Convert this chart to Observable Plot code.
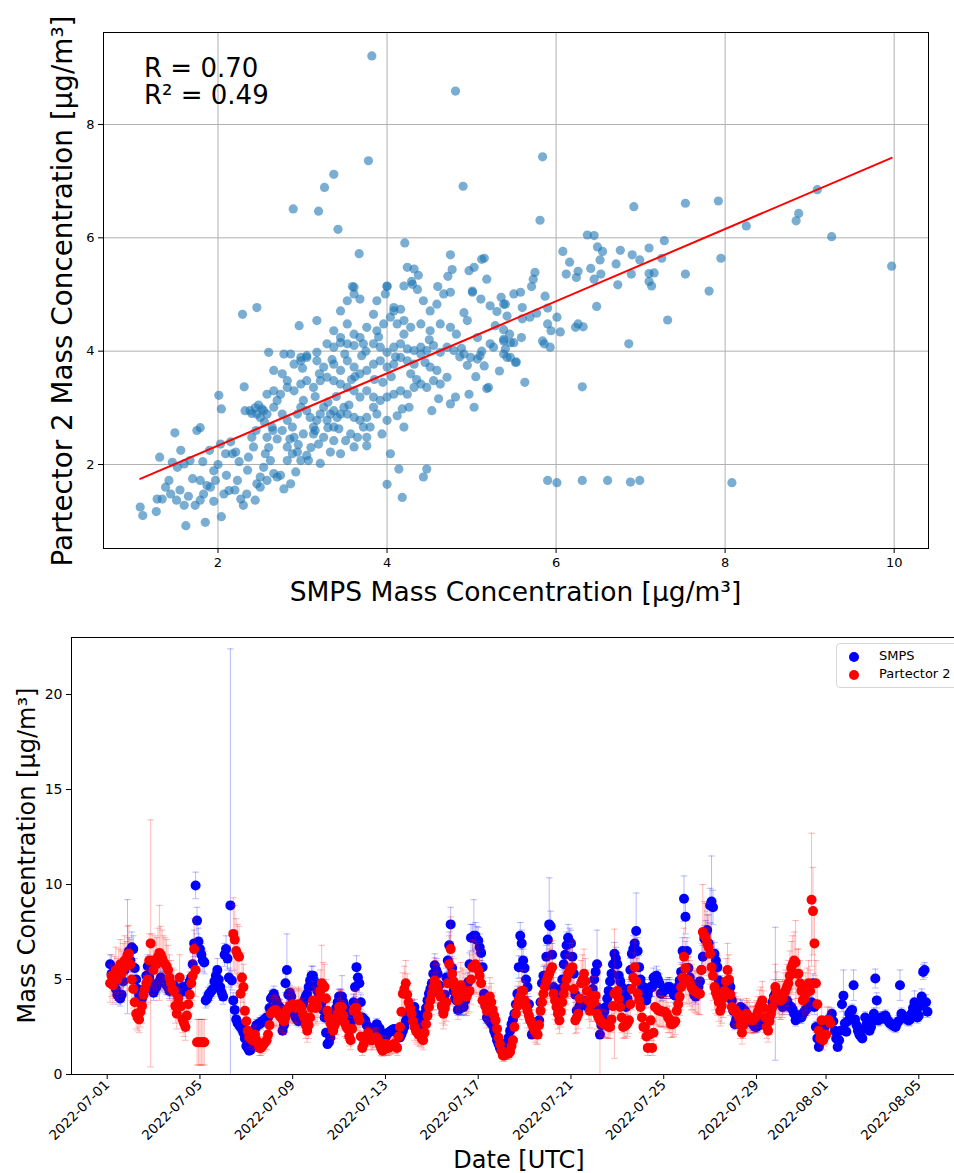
<!DOCTYPE html>
<html><head><meta charset="utf-8">
<script src="https://cdn.jsdelivr.net/npm/d3@7"></script>
<script src="https://cdn.jsdelivr.net/npm/@observablehq/plot@0.6"></script>
<style>
html,body{margin:0;padding:0;background:#fff;overflow:hidden}
#wrap{position:relative;width:954px;height:1173px;overflow:hidden;font-family:"DejaVu Sans",sans-serif;background:#fff}
#wrap svg{display:block}
.legend{position:absolute;left:836px;top:643px;width:140px;height:43px;border:1px solid #d6d6d6;border-radius:4px;background:rgba(255,255,255,0.85);font-family:"DejaVu Sans",sans-serif;font-size:13px;color:#000}
.legend .dot{position:absolute;left:12px;width:10px;height:10px;border-radius:50%}
.legend .lab{position:absolute;left:42px;line-height:16px}
</style></head>
<body><div id="wrap"></div>
<script>
// ---------------- Panel 1: scatter (SMPS vs Partector 2) ----------------
const scatterPairs = [
[1.08,1.25],[1.11,1.10],[1.27,1.17],[1.31,2.13],[1.49,2.56],[1.56,2.25],[1.62,0.92],[1.42,1.72],[1.38,1.60],[1.46,2.04],
[1.52,1.95],[1.60,2.01],[1.67,2.07],[1.75,2.60],[1.79,2.65],[1.28,1.39],[1.34,1.39],[1.44,1.48],[1.51,1.37],[1.60,1.28],
[1.65,1.44],[1.73,1.28],[1.79,1.72],[1.83,1.48],[1.87,1.63],[1.85,0.98],[1.79,1.37],[1.91,1.60],[1.97,1.72],[1.95,1.89],
[2.01,3.22],[2.04,2.98],[2.03,2.36],[2.04,1.08],[2.07,1.48],[2.10,1.81],[2.13,1.54],[2.09,2.19],[2.17,2.19],[2.21,2.22],
[2.23,1.72],[2.27,1.39],[2.30,1.28],[2.31,3.37],[2.29,4.65],[2.46,4.77],[2.34,1.48],[2.32,2.95],[2.36,2.13],[2.42,2.31],
[2.40,2.48],[2.44,1.37],[2.46,1.66],[2.50,1.78],[2.50,1.60],[2.54,1.95],[2.56,2.19],[2.58,2.48],[2.62,2.07],[2.58,1.72],
[2.66,1.84],[2.70,1.78],[2.74,1.81],[2.78,1.57],[2.86,1.66],[2.92,1.87],[2.82,2.07],[2.88,2.19],[2.94,2.22],[2.98,2.07],
[3.05,2.16],[3.07,2.07],[3.21,2.02],[3.19,2.36],[3.25,2.48],[3.33,2.22],[3.37,2.42],[3.45,2.19],[3.51,2.42],[3.57,2.54],
[3.61,2.31],[3.65,2.48],[3.76,2.48],[3.76,2.33],[3.80,2.66],[3.88,2.89],[3.94,2.54],[4.00,2.78],[4.04,2.19],[4.14,1.92],
[4.00,1.65],[4.18,1.42],[4.20,2.66],[4.12,2.86],[4.18,2.98],[4.26,3.01],[4.43,1.78],[4.47,1.92],
[1.55,1.55],[1.70,1.75],[1.82,2.05],[1.90,2.25],[2.00,2.00],[2.15,2.40],[2.25,2.05],[2.35,1.90],[2.20,1.55],[1.95,1.35],
[2.60,2.30],[2.70,2.45],[2.55,2.75],[2.45,2.60],[2.65,2.60],[2.85,2.45],[2.95,2.35],[3.10,2.30],[3.15,2.60],[3.30,2.65],
[2.40,2.90],[2.48,3.05],[2.52,2.98],[2.44,3.00],
[2.38,2.95],[2.46,2.89],[2.54,2.95],[2.50,2.83],[2.58,2.89],[2.66,3.01],[2.70,3.13],[2.76,2.89],[2.82,2.78],[2.88,2.66],
[2.94,2.89],[2.98,3.01],[3.01,3.13],[3.05,2.95],[3.09,2.83],[3.13,2.66],[3.17,2.78],[3.21,2.89],[3.25,3.01],[3.29,2.78],
[3.33,2.89],[3.37,2.95],[3.41,2.83],[3.45,2.89],[3.49,3.01],[3.53,2.89],[3.61,2.83],[3.68,2.78],[3.72,2.66],[3.76,2.83],
[3.84,3.01],[3.37,2.66],[3.43,2.63],[3.13,2.54],[3.01,2.54],[2.90,2.48],[2.82,2.31],[2.76,2.60],[2.64,2.66],[2.58,3.24],
[2.66,3.30],[2.74,3.24],[2.82,3.36],[2.90,3.30],[2.98,3.42],[3.05,3.48],[3.13,3.36],[3.21,3.48],[3.29,3.54],[3.37,3.48],
[3.45,3.42],[3.53,3.36],[3.61,3.30],[3.68,3.19],[3.76,3.30],[3.84,3.19],[3.92,3.13],[4.00,3.19],[4.08,3.24],[4.16,3.30],
[4.24,3.24],[4.32,3.36],[4.40,3.42],[4.47,3.36],[4.55,3.48],[4.63,3.42],[2.66,3.66],[2.76,3.60],[2.82,3.48],[2.90,3.77],
[2.98,3.83],[3.05,3.89],[3.17,3.83],[3.25,3.72],[3.37,3.77],[3.45,3.66],[3.53,3.83],[3.61,3.72],[3.68,3.60],[3.76,3.66],
[3.84,3.77],[3.92,3.83],[4.00,3.72],[4.08,3.77],[4.16,3.89],[4.24,3.83],[4.32,3.77],[4.40,3.95],[4.51,3.72],[4.59,3.66],
[4.71,3.54],[4.75,3.07],[4.81,3.19],[4.97,3.24],[5.03,3.01],[5.20,3.36],[4.53,2.95],[4.61,3.16],[2.60,3.98],[2.78,3.95],
[2.86,3.95],[2.98,3.89],[3.05,3.92],[3.17,3.98],[3.29,4.13],[3.37,4.07],[3.45,4.15],[3.53,4.13],[3.61,4.10],[3.72,4.13],
[3.84,4.13],[3.92,4.07],[4.00,3.98],[4.08,4.07],[4.16,4.13],[4.24,4.04],[4.32,4.01],[4.40,4.07],[4.47,4.01],[4.55,4.10],
[4.63,3.98],[4.71,4.07],[4.79,4.01],[4.91,3.95],[4.99,3.89],[5.07,3.86],[5.15,3.74],[5.26,4.07],[5.38,3.95],[5.46,3.89],
[5.52,3.80],
[3.30,3.10],[3.40,3.20],[3.55,3.05],[3.62,3.55],[3.50,3.95],[3.95,3.45],[4.05,3.55],[4.10,3.90],[4.28,3.60],[4.35,3.50],
[3.15,3.20],[3.00,3.70],[3.20,3.60],[3.35,3.85],[3.70,3.92],[3.85,3.50],[4.45,3.80],[4.50,4.20],[4.20,4.30],[3.90,4.25],
[3.58,3.50],[3.75,4.00],
[2.96,4.45],[3.17,4.54],[3.37,4.36],[3.45,4.24],[3.53,4.48],[3.61,4.30],[3.68,4.24],[3.76,4.42],[3.88,4.36],[3.96,4.48],
[4.04,4.60],[4.12,4.48],[4.20,4.54],[4.28,4.42],[4.40,4.48],[4.51,4.36],[4.63,4.48],[4.75,4.42],[4.95,4.54],[5.07,4.24],
[5.22,4.13],[5.38,4.21],[5.46,4.15],[3.45,4.71],[3.53,4.89],[3.61,5.01],[3.68,4.92],[3.88,4.89],[3.98,5.01],[4.08,4.71],
[4.16,4.74],[4.20,5.15],[4.30,5.18],[4.36,5.09],[4.43,4.89],[4.51,4.71],[4.59,4.83],[4.67,5.01],[4.75,5.04],[4.91,4.68],
[5.01,5.04],[5.11,4.92],[5.22,4.80],[5.38,4.83],[5.50,5.01],[3.61,5.13],[4.00,5.15],[3.84,4.65],[4.08,4.77],
[3.82,9.21],[4.81,8.59],[3.78,7.36],[3.37,7.12],[3.26,6.89],[4.90,6.91],[2.89,6.51],[3.19,6.47],[3.42,6.15],[4.21,5.91],
[3.67,5.72],[4.75,5.70],[5.15,5.64],[5.12,5.62],[4.24,5.48],[4.32,5.45],[4.37,5.34],[4.77,5.44],[4.72,5.32],[4.97,5.42],
[5.03,5.48],[5.18,5.27],[4.29,5.23],[3.59,5.14],[4.00,5.14],[4.60,5.14],[5.01,5.06],
[5.84,7.43],[5.81,6.31],[6.92,6.55],[7.53,6.61],[7.92,6.65],[9.09,6.85],[8.87,6.43],[8.84,6.30],[8.25,6.21],[9.26,6.02],
[9.97,5.50],[6.37,6.05],[6.45,6.04],[6.49,5.84],[6.55,5.76],[6.08,5.76],[6.16,5.57],[6.76,5.78],[6.90,5.70],[6.99,5.61],
[7.10,5.82],[7.28,5.95],[7.25,5.64],[7.95,5.64],[6.52,5.61],[6.71,5.54],[6.41,5.46],[6.26,5.41],[6.12,5.36],[6.24,5.30],
[6.45,5.27],[6.53,5.36],[6.89,5.36],[7.10,5.37],[7.16,5.38],[7.10,5.23],[7.13,5.15],[7.53,5.36],[6.73,5.17],[5.75,5.39],
[5.73,5.27],[5.71,5.14],[5.58,5.04],[7.81,5.06],
[6.48,4.79],[7.32,4.55],[6.86,4.13],[5.87,4.97],[5.40,4.83],[5.60,4.77],[5.90,4.76],[5.77,4.67],[5.60,4.57],[5.69,4.60],
[6.01,4.60],[5.90,4.48],[5.38,4.38],[5.94,4.36],[6.05,4.34],[6.23,4.42],[6.26,4.48],[6.32,4.43],[5.59,4.24],[5.84,4.18],
[5.86,4.13],[5.93,4.07],[5.38,4.18],[5.40,4.04],[5.42,3.89],[5.53,3.81],[5.63,3.45],[6.31,3.37],
[5.90,1.72],[6.01,1.68],[6.31,1.72],[6.61,1.72],[6.88,1.69],[6.99,1.72],[8.08,1.68],
[5.30,4.70],[5.35,4.95],[5.45,4.30],[5.28,4.45],[5.50,4.15],[5.33,3.65],[5.42,4.62],[4.82,4.30],[4.88,4.05],[4.95,3.75],
[5.05,3.55],[4.86,3.90],[5.12,4.00],[5.18,3.34],[5.10,3.92]
];
const fitSlope = 0.637;
const fitIntercept = 1.06;
const statLines = ["R = 0.70", "R² = 0.49"];
const scatterXTicks = [2, 4, 6, 8, 10];
const scatterYTicks = [2, 4, 6, 8];
const scatterXLabel = "SMPS Mass Concentration [µg/m³]";
const scatterYLabel = "Partector 2 Mass Concentration [µg/m³]";

// ---------------- Panel 2: time series (every 1.5 h from seriesStart, one row per day) ----------------
const seriesStart = "2022-07-01T01:30:00Z";
const stepHours = 1.5;
const smps = [
null,5.8,5.3,5.0,4.8,4.5,4.2,4.1,4.0,4.2,4.9,5.5,6.0,6.2,6.5,6.0,
6.7,6.6,5.6,5.0,4.5,4.2,4.0,4.0,4.2,4.5,5.2,5.7,5.1,4.8,4.5,4.3,
4.5,4.6,4.8,4.9,5.1,5.0,4.9,4.8,4.7,4.6,4.4,4.5,4.6,4.7,4.5,4.3,
4.2,4.3,4.5,4.6,4.4,4.5,4.6,4.7,4.9,5.1,5.8,6.9,9.95,8.1,7.0,6.6,
6.3,6.0,5.9,3.9,4.0,4.2,4.3,4.4,4.5,4.9,5.2,5.5,5.0,4.6,4.3,4.1,
6.3,6.6,6.1,5.1,8.9,4.95,3.9,3.4,2.9,2.7,2.6,2.5,2.4,2.2,1.9,1.5,
1.4,1.25,1.3,1.6,2.0,2.4,2.6,2.6,2.7,2.7,2.8,2.85,2.9,3.0,3.0,3.5,
4.0,4.1,4.25,4.0,3.8,3.6,3.55,3.2,2.3,2.6,4.8,5.5,4.2,4.3,4.1,3.6,
3.2,3.0,2.9,2.8,3.1,3.4,3.7,3.9,4.1,4.25,4.6,4.95,5.2,5.2,4.9,4.6,
4.4,4.25,4.0,3.8,3.4,3.0,2.2,1.6,1.7,1.95,2.4,2.85,3.2,3.5,3.8,4.1,
4.1,4.1,3.8,3.55,3.4,3.2,2.9,2.7,3.0,3.8,4.6,5.65,5.1,4.8,3.8,3.0,
2.9,2.85,2.6,2.5,2.4,2.4,2.3,2.3,2.5,2.65,2.5,2.4,2.2,2.0,1.95,1.95,
2.1,2.2,2.25,2.3,2.35,2.4,2.3,2.2,2.1,1.95,2.1,2.3,2.5,2.8,3.0,3.2,
3.3,3.4,3.5,3.55,3.2,2.8,2.4,2.1,2.5,2.9,3.2,3.5,3.9,4.25,4.5,4.8,
5.3,5.75,5.5,5.3,4.7,4.2,3.6,3.3,4.2,5.1,6.0,6.8,7.9,5.6,4.4,4.0,
3.9,3.4,3.45,3.5,3.55,3.55,3.9,4.2,4.85,5.8,7.2,7.2,7.3,7.3,7.1,7.05,
6.7,6.4,5.65,4.25,3.6,3.0,2.9,2.8,2.7,2.6,2.3,2.1,1.8,1.6,1.4,1.25,
1.25,1.3,1.4,1.7,1.95,2.3,2.65,2.9,3.2,3.7,4.25,5.65,7.3,6.9,6.0,5.6,
5.0,4.6,3.7,2.85,2.1,2.2,2.3,2.5,2.7,2.85,3.8,4.8,5.2,5.2,6.2,7.1,
7.9,7.8,6.3,4.6,4.3,4.1,3.9,3.9,4.5,5.0,5.8,6.3,6.8,7.2,7.0,6.9,
6.2,5.3,4.2,3.35,3.4,3.6,3.8,3.9,3.8,3.7,3.6,3.55,3.55,3.9,4.5,5.0,
5.4,5.8,3.5,2.1,2.6,3.0,3.3,3.55,4.0,4.4,4.9,5.3,5.8,6.35,6.1,5.8,
5.2,4.9,4.6,4.3,3.9,3.55,4.0,4.5,5.5,6.35,6.6,6.9,7.55,6.5,5.65,5.0,
4.6,4.6,4.2,3.9,4.2,4.5,4.6,4.6,5.1,4.9,5.2,5.0,4.8,4.25,4.3,4.4,
4.5,4.5,4.6,4.6,4.5,4.4,4.2,4.15,4.4,4.6,4.95,5.4,6.5,9.25,8.3,6.5,
5.6,5.1,4.8,4.5,4.2,4.1,4.3,4.6,4.9,5.5,6.2,7.15,7.4,7.6,6.9,8.9,
9.1,8.8,6.35,6.0,5.65,4.95,4.7,4.5,4.4,4.25,4.4,4.6,4.8,4.6,3.9,3.35,
2.65,2.9,3.2,3.4,3.55,3.5,3.4,3.35,3.2,3.0,2.85,2.8,2.7,2.6,2.5,2.5,
2.55,2.65,2.7,2.8,2.85,2.85,2.9,2.95,3.0,3.4,3.8,4.1,4.25,4.2,4.1,3.9,
3.7,3.55,3.7,3.8,3.9,3.7,3.55,3.55,3.4,3.2,2.85,3.0,3.1,3.0,3.0,3.2,
3.3,3.4,3.5,3.6,3.7,3.8,4.8,3.55,2.5,1.9,1.45,1.7,1.95,2.3,2.5,2.65,
2.8,2.9,3.0,3.2,2.8,2.3,1.9,1.45,1.8,2.3,3.7,4.15,2.7,2.25,2.8,3.2,
3.3,3.4,4.7,2.9,2.6,2.3,2.1,2.0,1.9,2.4,3.0,2.65,2.5,2.3,2.5,2.8,
3.2,5.05,3.9,2.85,2.9,3.0,3.0,3.0,3.1,2.9,2.8,2.7,2.65,2.6,2.55,2.5,
2.7,2.8,4.7,3.2,3.1,3.0,2.95,2.9,2.85,2.9,3.2,3.5,3.8,3.3,3.0,3.1,
3.6,4.1,5.4,5.5,3.8,3.3
];
const smpsErr = [
null,0.5,0.5,0.4,0.4,0.4,0.4,0.4,0.4,0.4,0.5,0.6,0.6,3.0,0.7,0.6,
0.8,0.7,0.5,0.5,0.4,0.4,0.4,0.4,0.4,0.4,0.5,0.6,0.5,0.5,0.4,0.4,
0.4,0.4,0.5,0.5,0.5,0.5,0.5,0.5,0.5,0.4,0.4,0.4,0.4,0.5,0.4,0.4,
0.4,0.4,0.4,0.4,0.4,0.4,0.4,0.5,0.5,0.5,0.6,0.7,0.7,0.7,0.7,0.6,
0.6,0.6,0.6,0.4,0.4,0.4,0.4,0.4,0.4,0.5,0.5,0.6,0.5,0.5,0.4,0.4,
0.6,0.7,0.6,0.5,13.5,0.5,0.4,0.3,0.3,0.3,0.3,0.3,0.2,0.2,0.2,0.2,
0.2,0.1,0.1,0.2,0.2,0.2,0.3,0.3,0.3,0.3,0.3,0.3,0.3,0.3,0.3,0.4,
0.4,0.4,0.4,0.4,0.4,0.4,0.4,0.3,0.2,0.3,0.5,1.9,0.4,0.4,0.4,0.4,
0.3,0.3,0.3,0.3,0.3,0.3,0.4,0.4,0.4,0.4,0.5,0.5,0.5,0.5,0.5,0.5,
0.4,0.4,0.4,0.4,0.3,0.3,0.2,0.2,0.2,0.2,0.2,0.3,0.3,0.3,0.4,0.4,
0.4,1.1,0.4,0.4,0.3,0.3,0.3,0.3,0.3,0.4,0.5,0.6,0.5,0.5,0.4,0.3,
0.3,0.3,0.3,0.2,0.2,0.2,0.2,0.2,0.2,0.3,0.2,0.2,0.2,0.2,0.2,0.2,
0.2,0.2,0.2,0.2,0.2,0.2,0.2,0.2,0.2,0.2,0.2,0.2,0.2,0.3,0.3,0.3,
0.3,0.3,0.4,0.4,0.3,0.3,0.2,0.2,0.2,0.3,0.3,0.4,0.4,0.4,0.5,0.5,
0.5,0.6,0.6,0.5,0.5,0.4,0.4,0.3,0.4,0.5,0.6,0.7,0.9,0.6,0.4,0.4,
0.4,0.3,0.3,0.4,0.4,0.4,0.4,0.4,0.5,0.6,0.7,0.7,1.9,0.7,0.7,0.7,
0.7,0.6,0.6,0.4,0.4,0.3,0.3,0.3,0.3,0.3,0.2,0.2,0.2,0.2,0.1,0.1,
0.1,0.1,0.1,0.2,0.2,0.2,0.3,0.3,0.3,0.4,0.4,0.6,0.7,0.7,0.6,0.6,
0.5,0.5,0.4,0.3,0.2,0.2,0.2,0.3,0.3,0.3,0.4,0.5,0.5,0.5,0.6,0.7,
2.45,0.8,0.6,0.5,0.4,0.4,0.4,0.4,0.5,0.5,0.6,0.6,0.7,0.7,0.7,0.7,
0.6,0.5,0.4,0.3,0.3,0.4,0.4,0.4,0.4,0.4,0.4,0.4,0.4,0.4,0.5,0.5,
0.5,1.8,0.4,0.2,0.3,0.3,0.3,0.4,0.4,0.4,0.5,0.5,0.6,0.6,0.6,0.6,
0.5,0.5,0.5,0.4,0.4,0.4,0.4,0.5,0.6,0.6,0.7,0.7,2.0,0.7,0.6,0.5,
0.5,0.5,0.4,0.4,0.4,0.5,0.5,0.5,0.5,0.5,0.5,0.5,0.5,0.4,0.4,0.4,
0.5,0.5,0.5,0.5,0.5,0.4,0.4,0.4,0.4,0.5,0.5,0.5,0.7,1.2,0.9,0.7,
0.6,0.5,0.5,0.5,0.4,0.4,0.4,0.5,0.5,0.6,0.6,0.7,0.7,0.8,0.7,0.9,
2.4,0.9,0.6,0.6,0.6,0.5,0.5,0.5,0.4,0.4,0.4,0.5,0.5,0.5,0.4,0.3,
0.3,0.3,0.3,0.3,0.4,0.4,0.3,0.3,0.3,0.3,0.3,0.3,0.3,0.3,0.3,0.3,
0.3,0.3,0.3,0.3,0.3,0.3,0.3,0.3,0.3,0.3,0.4,0.4,3.5,0.4,0.4,0.4,
0.4,0.4,0.4,0.4,0.4,0.4,0.4,0.4,0.3,0.3,0.3,0.3,0.3,0.3,0.3,0.3,
0.3,0.3,0.4,0.4,0.4,0.4,0.5,0.4,0.3,0.2,0.2,0.2,0.2,0.2,0.3,0.3,
0.3,0.3,0.3,0.3,0.3,0.2,0.2,0.2,0.2,0.2,0.4,1.35,0.3,0.2,0.3,0.3,
0.3,0.3,0.8,0.3,0.3,0.2,0.2,0.2,0.2,0.2,0.3,0.3,0.3,0.2,0.3,0.3,
0.3,0.5,0.4,0.3,0.3,0.3,0.3,0.3,0.3,0.3,0.3,0.3,0.3,0.3,0.3,0.3,
0.3,0.3,0.8,0.3,0.3,0.3,0.3,0.3,0.3,0.3,0.3,0.4,0.6,0.3,0.3,0.3,
0.4,0.4,0.4,0.4,0.4,0.3
];
const partector = [
null,4.8,5.2,4.7,5.1,5.5,5.0,5.4,5.8,5.3,5.6,6.0,5.7,6.3,6.35,5.8,
5.0,4.5,3.8,3.2,3.0,2.9,3.3,3.6,4.2,4.5,4.8,5.0,6.0,6.9,6.0,5.5,
5.9,5.8,6.2,6.4,6.3,6.1,5.9,5.8,5.7,5.5,5.1,4.8,4.5,4.4,3.6,3.2,
4.0,5.1,3.6,2.9,2.7,2.5,3.1,3.7,4.2,4.8,5.2,6.6,5.5,1.7,1.7,1.7,
1.7,1.7,1.7,null,null,null,null,null,null,null,null,null,null,null,null,null,
null,null,null,null,null,null,7.4,7.1,6.5,6.3,6.2,4.25,5.1,4.6,3.35,2.8,
2.3,1.95,1.9,1.8,2.0,2.1,1.8,1.6,1.4,1.4,1.5,1.6,1.7,1.8,2.1,2.6,
3.2,3.3,3.35,3.4,3.3,3.2,3.1,3.0,2.9,2.8,3.0,3.4,3.5,3.6,3.65,3.7,
3.6,3.5,3.6,3.7,3.6,3.5,3.2,3.0,2.6,2.3,2.6,3.0,3.5,3.9,3.7,3.5,
3.6,4.0,4.4,4.8,4.7,4.6,4.0,3.35,3.0,2.7,2.5,2.3,2.6,2.8,3.2,3.55,
3.55,3.55,3.1,2.7,2.5,2.4,2.0,1.8,2.4,3.35,3.5,3.5,3.1,2.85,2.0,1.4,
1.6,1.8,2.0,2.2,2.0,1.8,1.8,1.9,1.95,1.95,1.8,1.6,1.4,1.25,1.3,1.6,
1.4,1.4,1.45,1.5,1.55,1.6,1.5,1.4,2.0,2.5,3.3,4.25,4.5,4.8,4.2,3.8,
3.5,3.2,2.8,2.5,2.3,2.2,2.1,2.1,1.9,1.8,2.2,2.65,3.1,3.55,3.9,4.25,
4.6,4.95,4.8,4.6,4.3,4.1,3.6,3.2,3.5,3.8,4.8,5.8,6.6,5.3,4.9,4.6,
4.3,3.9,4.3,4.7,4.5,4.4,4.2,4.1,4.3,4.4,5.0,5.65,5.7,5.8,5.6,5.5,
5.2,4.8,3.9,3.9,3.6,3.35,3.7,4.1,3.8,3.4,3.1,2.85,2.4,1.95,1.6,1.25,
1.0,1.0,1.1,1.1,1.1,1.2,1.5,1.8,2.5,3.2,3.6,3.9,4.1,4.4,4.4,3.9,
3.6,3.35,3.1,2.85,2.7,2.5,2.3,2.2,2.1,2.6,3.35,3.8,4.25,4.6,4.9,5.1,
5.3,5.5,5.65,4.25,3.9,3.55,3.2,2.85,3.3,3.8,4.25,4.6,5.0,5.3,5.5,5.5,
5.65,4.5,2.85,3.0,3.2,4.0,4.8,5.0,5.3,4.9,4.4,3.9,3.35,3.7,4.15,3.8,
4.15,3.2,3.0,2.85,2.75,2.7,2.65,2.65,2.6,2.5,2.5,2.9,3.6,4.25,4.3,4.4,
4.0,3.55,3.0,2.5,2.55,2.6,2.7,2.85,3.7,4.5,5.1,5.65,4.9,4.25,3.9,3.55,
3.0,2.5,2.5,2.0,1.4,2.1,2.85,1.4,2.2,3.55,3.5,3.4,3.35,3.35,3.3,3.3,
3.3,3.2,3.0,2.9,2.65,2.65,2.7,2.8,3.35,3.7,4.1,4.6,5.1,6.2,5.6,5.0,
4.95,4.8,4.6,4.5,4.4,4.35,4.3,4.25,4.25,5.5,7.5,7.3,7.2,6.9,6.7,6.35,
5.65,5.2,4.6,4.3,4.1,3.8,3.35,3.6,4.0,4.4,4.9,5.5,5.0,4.2,3.55,3.4,
3.4,3.3,3.2,3.0,2.6,2.2,2.6,3.0,3.2,3.1,3.0,2.9,2.85,2.9,3.0,3.1,
3.3,3.55,3.7,3.9,3.5,3.0,2.5,2.3,2.8,3.2,3.55,4.0,4.6,4.3,4.0,3.9,
3.9,4.0,4.25,4.4,4.6,4.8,5.2,5.6,5.8,6.0,5.9,5.3,5.3,4.8,4.4,3.9,
4.0,4.25,4.5,4.8,4.4,9.2,8.6,6.9,4.8,3.7,2.3,1.9,2.85,1.8,2.0,2.1,
2.85,2.85,2.7
];
const partectorErr = [
null,1.0,1.1,1.0,1.1,1.2,1.1,1.2,1.3,1.2,1.3,1.3,1.3,1.5,1.5,1.3,
1.1,1.0,0.9,0.8,0.7,0.7,0.8,0.9,1.0,1.0,1.1,1.2,1.4,6.5,1.4,1.3,
1.4,1.4,1.5,2.5,1.5,1.5,1.4,1.4,1.4,1.3,1.2,1.2,1.1,1.1,0.9,0.8,
1.0,1.2,0.9,0.7,0.7,0.7,0.8,0.9,1.0,1.2,1.3,1.6,1.4,1.2,1.2,1.2,
1.2,1.2,1.2,null,null,null,null,null,null,null,null,null,null,null,null,null,
null,null,null,null,null,null,1.9,1.8,1.7,1.6,1.6,1.1,1.3,1.2,0.9,0.7,
0.6,0.5,0.5,0.5,0.5,0.5,0.5,0.4,0.4,0.4,0.4,0.4,0.4,0.5,0.5,0.7,
0.8,0.8,0.8,0.8,0.8,0.8,0.8,0.8,0.7,0.7,0.8,0.8,0.9,0.9,0.9,0.9,
0.9,0.9,0.9,0.9,0.9,0.9,0.8,0.8,0.7,0.6,0.7,0.8,0.9,1.0,0.9,0.9,
0.9,1.0,1.1,2.0,1.2,1.2,1.0,0.9,0.8,0.7,0.6,0.6,0.7,0.7,0.8,0.9,
0.9,0.9,0.8,0.7,0.6,0.6,0.5,0.5,0.6,0.9,0.9,0.9,0.8,0.7,0.5,0.4,
0.4,0.5,0.5,0.6,0.5,0.5,0.5,0.5,0.5,0.5,0.5,0.4,0.4,0.3,0.3,0.4,
0.4,0.4,0.4,0.4,0.4,0.4,0.4,0.4,0.5,0.7,0.9,1.1,1.2,1.2,1.1,1.0,
0.9,0.8,0.7,0.7,0.6,0.6,0.6,0.6,0.5,0.5,0.6,0.7,0.8,0.9,1.0,1.1,
1.2,1.2,1.2,1.2,1.1,1.0,0.9,0.8,0.9,1.0,1.2,1.5,1.7,1.3,1.2,1.2,
1.1,1.0,1.1,1.2,1.1,1.1,1.1,1.0,1.1,1.1,1.3,1.4,1.4,1.5,1.4,1.4,
1.3,1.2,1.0,1.0,0.9,0.9,0.9,1.0,1.0,0.9,0.8,0.7,0.6,0.5,0.4,0.3,
0.3,0.3,0.3,0.3,0.3,0.3,0.4,0.5,0.6,0.8,0.9,1.0,1.0,1.1,1.1,1.0,
0.9,0.9,0.8,0.7,0.7,0.6,0.6,0.6,0.5,0.7,0.9,1.0,1.1,1.2,1.2,1.3,
1.3,1.4,1.4,1.1,1.0,0.9,0.8,0.7,0.8,1.0,1.1,1.2,1.3,1.3,1.4,1.4,
1.4,1.1,0.7,0.8,0.8,1.0,1.2,1.3,1.3,1.2,1.1,1.0,0.9,0.9,1.0,1.0,
1.0,0.8,0.8,2.9,0.7,0.7,0.7,0.7,0.7,0.6,0.6,0.7,0.9,3.4,1.1,1.1,
1.0,0.9,0.8,0.6,0.6,0.7,0.7,0.7,0.9,1.1,1.3,1.4,1.2,1.1,1.0,0.9,
0.8,0.6,0.6,0.5,0.4,0.5,0.7,0.4,0.6,0.9,0.9,0.9,0.8,0.8,0.8,0.8,
0.8,0.8,0.8,0.7,0.7,0.7,0.7,0.7,0.8,0.9,1.0,1.2,1.3,1.5,1.4,1.3,
1.2,1.2,1.2,1.1,1.1,1.1,1.1,1.1,1.1,1.4,2.5,1.8,1.8,1.7,1.7,1.6,
1.4,1.3,1.2,1.1,1.0,1.0,0.8,0.9,1.0,1.1,1.2,1.4,1.3,1.1,0.9,0.9,
0.9,0.8,0.8,0.8,0.7,0.6,0.7,0.8,0.8,0.8,0.8,0.7,0.7,0.7,0.8,0.8,
0.8,0.9,0.9,1.0,0.9,0.8,0.6,0.6,0.7,0.8,0.9,1.0,1.2,1.1,1.0,1.0,
1.0,1.0,1.1,1.1,1.2,1.2,1.3,1.4,1.5,1.5,2.2,1.3,1.3,1.2,1.1,1.0,
1.0,1.1,1.1,1.2,1.1,3.5,2.3,1.7,1.2,0.9,0.6,0.5,0.7,0.5,0.5,0.5,
0.7,0.7,0.7
];
const dateTicks = ["2022-07-01","2022-07-05","2022-07-09","2022-07-13","2022-07-17","2022-07-21","2022-07-25","2022-07-29","2022-08-01","2022-08-05"];
const concTicks = [0, 5, 10, 15, 20];
const seriesNames = ["SMPS", "Partector 2"];
const seriesColors = ["blue", "red"];
const tsXLabel = "Date [UTC]";
const tsYLabel = "Mass Concentration [µg/m³]";

// ---------------- build ----------------
const FONT = "DejaVu Sans, sans-serif";
const wrap = document.getElementById("wrap");

function addText(svg, str, x, y, size, rotate, anchor) {
  d3.select(svg).append("text")
    .attr("transform", `translate(${x},${y})` + (rotate ? ` rotate(${rotate})` : ""))
    .attr("text-anchor", anchor || "middle")
    .attr("font-family", FONT)
    .attr("font-size", size)
    .attr("fill", "black")
    .text(str);
}

const scatter = scatterPairs.map(([x, y]) => ({x, y}));
const xExt = d3.extent(scatter, d => d.x);
const fitLine = xExt.map(x => ({x, y: fitIntercept + fitSlope * x}));

const p1 = Plot.plot({
  width: 954, height: 620,
  marginLeft: 103, marginRight: 26, marginTop: 32, marginBottom: 72,
  style: {fontFamily: FONT, fontSize: "13px", overflow: "visible", background: "white", maxWidth: "none"},
  x: {domain: [0.6455, 10.406]},
  y: {domain: [0.518, 9.623]},
  marks: [
    Plot.gridX(scatterXTicks, {stroke: "#b0b0b0", strokeOpacity: 1, strokeWidth: 1}),
    Plot.gridY(scatterYTicks, {stroke: "#b0b0b0", strokeOpacity: 1, strokeWidth: 1}),
    Plot.dot(scatter, {x: "x", y: "y", r: 4.6, fill: "#1f77b4", fillOpacity: 0.6}),
    Plot.line(fitLine, {x: "x", y: "y", stroke: "red", strokeWidth: 2}),
    Plot.frame({stroke: "black", strokeWidth: 1}),
    Plot.axisX(scatterXTicks, {tickSize: 5, tickPadding: 4, fontSize: 13, label: null, tickFormat: d => String(d)}),
    Plot.axisY(scatterYTicks, {tickSize: 5, tickPadding: 4, fontSize: 13, label: null, tickFormat: d => String(d)})
  ]
});
addText(p1, statLines[0], 144, 77, 26, 0, "start");
addText(p1, statLines[1], 144, 104, 26, 0, "start");
addText(p1, scatterXLabel, 515.5, 601, 26.5);
addText(p1, scatterYLabel, 72, 291, 27.8, -90);
wrap.appendChild(p1);

const t0 = Date.parse(seriesStart);
const H = 3600e3;
const toRows = (vals, errs) => vals.map((v, i) => v == null ? null : ({t: new Date(t0 + i * stepHours * H), v, e: errs[i]})).filter(Boolean);
const smpsRows = toRows(smps, smpsErr);
const partRows = toRows(partector, partectorErr);

const DAY = 864e5;
const origin = Date.parse(dateTicks[0] + "T00:00:00Z");
const xDomain = [new Date(origin - 1.539 * DAY), new Date(origin + 37.10 * DAY)];

const capSymbol = {draw(ctx, size) { const w = Math.sqrt(size / Math.PI); ctx.moveTo(-w, 0); ctx.lineTo(w, 0); }};
function errorMarks(data, color) {
  return [
    Plot.ruleX(data, {x: "t", y1: d => d.v - d.e, y2: d => d.v + d.e, stroke: color, strokeOpacity: 0.28, strokeWidth: 1, clip: true}),
    Plot.dot(data, {x: "t", y: d => d.v - d.e, symbol: capSymbol, r: 3.3, stroke: color, strokeOpacity: 0.28, strokeWidth: 1, fill: "none", clip: true}),
    Plot.dot(data, {x: "t", y: d => d.v + d.e, symbol: capSymbol, r: 3.3, stroke: color, strokeOpacity: 0.28, strokeWidth: 1, fill: "none", clip: true})
  ];
}

const p2 = Plot.plot({
  width: 968, height: 553,
  marginLeft: 71, marginRight: 1, marginTop: 17, marginBottom: 99,
  style: {fontFamily: FONT, fontSize: "13px", overflow: "visible", background: "white", maxWidth: "none"},
  x: {type: "utc", domain: xDomain},
  y: {domain: [0, 23]},
  marks: [
    ...errorMarks(smpsRows, seriesColors[0]),
    Plot.dot(smpsRows, {x: "t", y: "v", r: 5, fill: seriesColors[0]}),
    ...errorMarks(partRows, seriesColors[1]),
    Plot.dot(partRows, {x: "t", y: "v", r: 5, fill: seriesColors[1]}),
    Plot.frame({stroke: "black", strokeWidth: 1}),
    Plot.axisX(dateTicks.map(s => new Date(s + "T00:00:00Z")), {tickFormat: d3.utcFormat("%Y-%m-%d"), tickRotate: -45, tickSize: 5, tickPadding: 3, fontSize: 13.5, label: null}),
    Plot.axisY(concTicks, {tickSize: 5, tickPadding: 4, fontSize: 14, label: null})
  ]
});
addText(p2, tsYLabel, 35, 235.5, 24, -90);
addText(p2, tsXLabel, 519, 548, 24);
wrap.appendChild(p2);

// legend
const leg = document.createElement("div");
leg.className = "legend";
seriesNames.forEach((name, i) => {
  const dot = document.createElement("span");
  dot.className = "dot";
  dot.style.background = seriesColors[i];
  dot.style.top = (8 + i * 18) + "px";
  const lab = document.createElement("span");
  lab.className = "lab";
  lab.style.top = (4 + i * 18) + "px";
  lab.textContent = name;
  leg.appendChild(dot);
  leg.appendChild(lab);
});
wrap.appendChild(leg);
</script>
</body></html>
